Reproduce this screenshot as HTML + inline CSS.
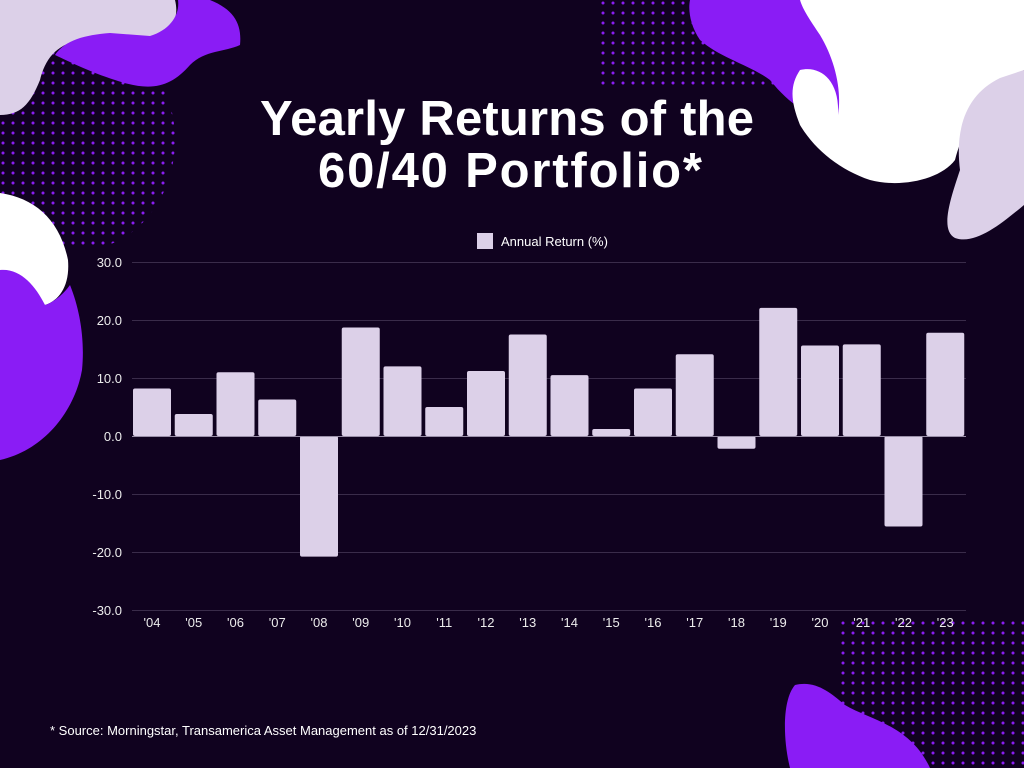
<!DOCTYPE html>
<html><head><meta charset="utf-8"><style>
html,body{margin:0;padding:0;background:#10021f;}
svg{display:block;}
text{font-family:"Liberation Sans",sans-serif;}
</style></head><body>
<svg width="1024" height="768" viewBox="0 0 1024 768" xmlns="http://www.w3.org/2000/svg">
<defs>
<pattern id="dots" width="10" height="10" patternUnits="userSpaceOnUse"><circle cx="3" cy="3" r="1.5" fill="#8a1cf5"/></pattern>
</defs>
<rect width="1024" height="768" fill="#10021f"/>
<ellipse cx="80" cy="140" rx="95" ry="110" fill="url(#dots)"/>
<path d="M0,0 L175,0 C180,20 170,35 150,38 L80,40 C55,45 45,60 40,80 C30,105 20,115 0,115 Z" fill="#dcd0e8"/>
<path d="M178,0 L210,0 C235,10 242,25 240,45 C225,52 205,50 190,65 C170,88 150,92 115,80 C90,72 70,62 55,55 C65,40 85,35 110,33 L150,36 C170,30 180,15 178,0 Z" fill="#8a1cf5"/>
<path d="M0,193 C35,198 60,220 68,260 C70,285 60,300 45,305 C35,300 30,290 22,278 L0,270 Z" fill="#ffffff"/>
<path d="M0,270 C20,268 35,285 45,305 C60,300 70,285 70,285 C80,310 85,340 82,370 C75,410 45,450 0,460 Z" fill="#8a1cf5"/>
<rect x="600" y="0" width="424" height="90" fill="url(#dots)"/>
<path d="M690,0 L800,0 C810,20 825,40 835,60 C842,80 842,100 838,120 C810,118 790,105 770,80 C750,65 720,58 700,40 C690,25 688,10 690,0 Z" fill="#8a1cf5"/>
<path d="M800,0 L1024,0 L1024,70 C990,90 965,120 955,160 C940,180 900,188 870,180 C840,170 815,150 800,125 C790,100 790,85 800,70 C820,65 840,80 838,115 C842,90 835,60 820,35 C810,20 803,10 800,0 Z" fill="#ffffff"/>
<path d="M1024,70 L1024,205 C1000,225 975,245 955,238 C940,230 950,200 960,170 C955,130 965,95 1000,78 Z" fill="#dcd0e8"/>
<rect x="840" y="615" width="184" height="153" fill="url(#dots)"/>
<path d="M795,685 C815,680 830,692 845,705 C870,720 910,725 930,768 L790,768 C783,740 782,700 795,685 Z" fill="#8a1cf5"/>
<text x="507" y="135" text-anchor="middle" fill="#ffffff" font-size="49" font-weight="bold" textLength="494">Yearly Returns of the</text>
<text x="510" y="187" text-anchor="middle" fill="#ffffff" font-size="49" font-weight="bold" textLength="384">60/40 Portfolio*</text>
<rect x="477" y="233" width="16" height="16" fill="#dcd0e8"/>
<text x="501" y="246" fill="#ffffff" font-size="13">Annual Return (%)</text>
<g stroke="#3a2c4a" stroke-width="1">
<line x1="132" y1="262.5" x2="966" y2="262.5"/>
<line x1="132" y1="320.5" x2="966" y2="320.5"/>
<line x1="132" y1="378.5" x2="966" y2="378.5"/>
<line x1="132" y1="494.5" x2="966" y2="494.5"/>
<line x1="132" y1="552.5" x2="966" y2="552.5"/>
<line x1="132" y1="610.5" x2="966" y2="610.5"/>
</g>
<g fill="#ececec" font-size="13" text-anchor="end">
<text x="122" y="267">30.0</text><text x="122" y="325">20.0</text><text x="122" y="383">10.0</text>
<text x="122" y="441">0.0</text><text x="122" y="499">-10.0</text><text x="122" y="557">-20.0</text><text x="122" y="615">-30.0</text>
</g>
<g id="bars" fill="#dcd0e8"></g>
<line x1="132" y1="436.5" x2="966" y2="436.5" stroke="#9a8fa8" stroke-width="1"/>
<g id="xl" fill="#ececec" font-size="13" text-anchor="middle"></g>
<text x="50" y="735" fill="#ffffff" font-size="13">* Source: Morningstar, Transamerica Asset Management as of 12/31/2023</text>
<script>
var v=[8.2,3.8,11,6.3,-20.8,18.7,12,5,11.2,17.5,10.5,1.2,8.2,14.1,-2.2,22.1,15.6,15.8,-15.6,17.8];
var b=document.getElementById('bars'),xl=document.getElementById('xl'),ns='http://www.w3.org/2000/svg';
v.forEach(function(d,i){var x=133+i*41.75,h=Math.abs(d)*5.8,y=d>=0?436-h:436;
var r=document.createElementNS(ns,'rect');r.setAttribute('x',x);r.setAttribute('y',y);r.setAttribute('width',38);r.setAttribute('height',h);r.setAttribute('rx',2);b.appendChild(r);
var t=document.createElementNS(ns,'text');t.setAttribute('x',x+19);t.setAttribute('y',627);var yr=4+i;t.textContent="'"+(yr<10?'0'+yr:yr);xl.appendChild(t);});
</script>
</svg>
</body></html>
